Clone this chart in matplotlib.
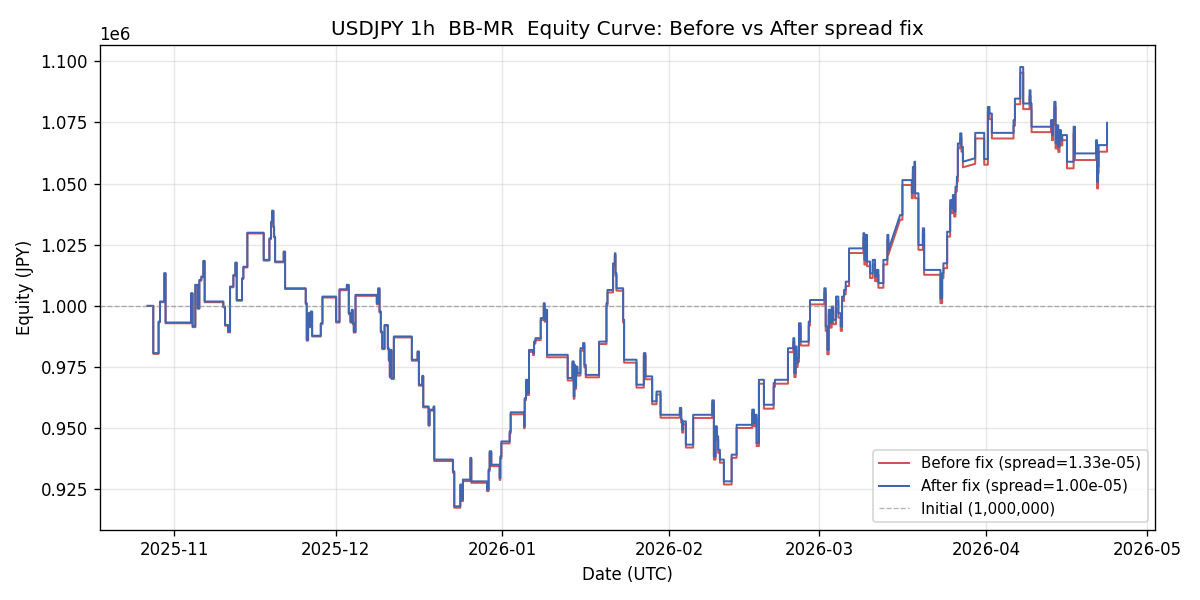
import matplotlib
matplotlib.use("Agg")
import matplotlib.pyplot as plt
import pandas as pd
import numpy as np

# ---- data ----
start_date = "2025-11-01"
# breakpoints: days since start_date at which equity jumps to a new level
days = [-4.97, -3.91, -2.92, -2.66, -1.86, -1.62, 3.11, 3.41, 3.91, 4.34,
        4.66, 5.03, 5.40, 5.65, 9.12, 9.44, 10.0, 10.37, 10.99, 11.36,
        11.61, 12.60, 12.85, 13.59, 16.63, 17.69, 18.0, 18.19, 18.44, 18.56,
        18.75, 20.35, 20.61, 24.45, 24.64, 24.89, 25.14, 25.38, 25.64, 27.25,
        27.56, 30.11, 30.73, 32.09, 32.46, 32.77, 33.02, 33.21, 33.39, 33.71,
        37.67, 37.93, 38.18, 38.42, 38.68, 39.11, 39.72, 39.91, 40.09, 40.22,
        40.41, 40.84, 44.19, 45.25, 45.50, 46.13, 46.31, 47.30, 47.49, 48.23,
        48.36, 51.83, 52.08, 53.20, 53.39, 53.69, 55.07, 55.25, 58.17, 58.47,
        58.66, 58.97, 60.52, 60.65, 60.84, 62.38, 62.57, 65.05, 65.18, 65.43,
        65.68, 65.98, 66.73, 66.92, 67.17, 68.16, 68.72, 68.90, 69.09, 69.34,
        73.18, 74.06, 74.30, 74.43, 74.55, 74.74, 74.99, 75.55, 76.04, 76.29,
        76.54, 79.01, 80.39, 80.58, 81.62, 81.94, 82.07, 82.25, 83.49, 83.67,
        85.98, 87.34, 87.65, 88.89, 89.70, 90.45, 94.04, 94.29, 94.47, 94.66,
        95.16, 96.52, 100.06, 100.37, 100.69, 100.93, 101.17, 101.49, 102.23, 103.67,
        104.60, 107.50, 107.82, 108.06, 108.32, 108.75, 109.68, 111.49, 111.73, 114.15,
        115.14, 115.33, 115.59, 115.77, 115.96, 116.20, 116.52, 118.01, 118.25, 120.91,
        121.17, 121.47, 121.73, 121.97, 122.29, 122.59, 123.09, 123.52, 123.96, 124.21,
        124.58, 124.90, 125.51, 128.18, 128.36, 128.62, 128.86, 129.42, 129.92, 130.35,
        130.67, 130.97, 131.90, 132.64, 132.83, 135.01, 135.44, 137.19, 137.38, 137.67,
        137.80, 138.42, 139.24, 139.48, 142.51, 142.83, 143.07, 143.76, 144.32, 144.64,
        144.82, 145.07, 145.31, 145.57, 145.75, 146.18, 146.42, 146.69, 148.90, 148.98,
        150.65, 151.34, 151.64, 152.08, 156.11, 156.37, 157.36, 157.91, 159.09, 159.27,
        159.46, 163.07, 163.26, 163.45, 163.69, 163.93, 164.19, 164.43, 164.67, 164.94,
        165.18, 166.05, 167.28, 167.54, 171.45, 171.64, 171.83, 171.94, 173.50]

# equity after spread fix (thousand JPY)
after_k = [1000.0, 980.7, 993.6, 1001.8, 1013.4, 993.2, 1005.2, 991.6, 1008.6, 999.1,
           1010.6, 1012.0, 1018.4, 1001.8, 999.7, 992.2, 989.5, 1007.9, 1012.6, 1017.7,
           1002.4, 1011.3, 1016.0, 1029.9, 1018.8, 1027.6, 1034.4, 1038.9, 1032.4, 1028.3,
           1018.1, 1022.2, 1007.2, 1001.1, 986.1, 997.0, 991.6, 997.7, 987.8, 992.9,
           1003.8, 993.6, 1006.8, 1008.6, 997.0, 993.6, 998.4, 992.9, 989.5, 1004.5,
           1001.1, 1007.2, 997.7, 989.5, 982.7, 992.2, 982.7, 978.0, 971.2, 982.0,
           970.5, 987.5, 978.0, 981.4, 967.8, 971.4, 958.9, 951.4, 957.6, 958.9,
           937.2, 932.4, 918.1, 927.0, 920.8, 929.0, 937.9, 928.3, 924.9, 933.1,
           940.6, 935.1, 929.7, 938.5, 944.6, 948.7, 956.5, 950.8, 962.3, 969.8,
           964.4, 982.0, 980.7, 985.4, 986.8, 995.0, 1001.1, 994.3, 998.4, 980.0,
           970.5, 977.3, 963.0, 975.9, 967.1, 975.2, 972.5, 982.7, 984.8, 975.9,
           971.8, 985.4, 1001.1, 1006.5, 1017.4, 1021.5, 1013.3, 1007.2, 994.3, 978.0,
           967.8, 980.7, 971.2, 961.0, 965.0, 955.5, 958.3, 953.5, 949.4, 952.8,
           943.3, 955.5, 961.4, 938.5, 950.8, 946.7, 941.2, 937.2, 928.3, 939.2,
           951.4, 957.6, 952.1, 955.5, 944.0, 969.8, 959.6, 968.5, 969.8, 982.7,
           986.8, 972.5, 983.4, 976.6, 978.7, 992.9, 985.4, 993.6, 1002.4, 1007.2,
           991.6, 982.0, 998.4, 992.9, 999.7, 994.3, 1003.8, 997.0, 991.6, 1003.8,
           1006.5, 1009.9, 1023.5, 1029.7, 1018.8, 1029.0, 1018.1, 1013.3, 1018.8, 1012.0,
           1014.7, 1009.3, 1018.8, 1029.0, 1022.8, 1037.1, 1051.4, 1046.0, 1056.8, 1058.9,
           1046.0, 1024.9, 1031.7, 1014.7, 1003.1, 1013.3, 1017.4, 1030.3, 1043.2, 1039.9,
           1045.3, 1038.5, 1048.7, 1052.8, 1066.4, 1070.5, 1065.0, 1058.9, 1060.3, 1070.7,
           1060.0, 1081.3, 1078.6, 1070.7, 1075.9, 1084.7, 1097.6, 1082.7, 1088.1, 1082.7,
           1073.2, 1075.9, 1069.8, 1075.9, 1083.4, 1066.4, 1073.8, 1065.0, 1071.8, 1067.7,
           1069.8, 1058.9, 1073.2, 1062.3, 1067.7, 1050.7, 1057.0, 1065.7, 1074.8]

# equity before spread fix (thousand JPY)
before_k = [1000.0, 980.4, 993.3, 1001.5, 1013.1, 992.9, 1004.9, 991.3, 1008.3, 998.8,
            1010.3, 1011.7, 1018.1, 1001.5, 999.4, 991.9, 989.2, 1007.6, 1012.3, 1017.4,
            1002.1, 1011.0, 1015.7, 1029.6, 1018.5, 1027.3, 1034.1, 1038.6, 1032.1, 1028.0,
            1017.8, 1021.9, 1006.9, 1000.8, 985.8, 996.7, 991.3, 997.4, 987.5, 992.5,
            1003.4, 993.2, 1006.4, 1008.2, 996.6, 993.2, 998.0, 992.5, 989.1, 1004.1,
            1000.7, 1006.8, 997.3, 989.1, 982.3, 991.8, 982.3, 977.6, 970.8, 981.6,
            970.1, 987.1, 977.6, 981.0, 967.4, 971.0, 958.5, 951.0, 957.2, 958.5,
            936.6, 931.8, 917.5, 926.4, 920.2, 928.4, 937.3, 927.7, 924.3, 932.5,
            940.0, 934.5, 928.9, 937.7, 943.8, 947.9, 955.7, 950.0, 961.5, 969.0,
            963.6, 981.2, 979.9, 984.6, 986.0, 994.2, 1000.3, 993.5, 997.6, 979.0,
            969.5, 976.3, 962.0, 974.9, 966.1, 974.2, 971.5, 981.7, 983.8, 974.9,
            970.8, 984.4, 1000.1, 1005.5, 1016.4, 1020.5, 1012.3, 1006.2, 993.1, 976.8,
            966.6, 979.5, 970.0, 959.8, 963.8, 954.3, 957.1, 952.3, 948.2, 951.6,
            942.1, 954.2, 960.1, 937.2, 949.5, 945.4, 939.9, 935.9, 927.0, 937.9,
            950.1, 956.3, 950.8, 954.2, 942.7, 968.2, 958.0, 966.9, 968.2, 981.1,
            985.2, 970.9, 981.8, 975.0, 977.1, 991.3, 983.8, 992.0, 1000.6, 1005.4,
            989.8, 980.2, 996.6, 991.1, 997.9, 992.5, 1002.0, 995.2, 989.8, 1002.0,
            1004.7, 1008.1, 1021.6, 1027.8, 1016.9, 1027.1, 1016.2, 1011.4, 1016.9, 1010.1,
            1012.8, 1007.4, 1016.9, 1027.1, 1020.9, 1035.2, 1049.4, 1044.0, 1054.8, 1056.9,
            1044.0, 1022.9, 1029.7, 1012.7, 1001.1, 1011.3, 1015.4, 1028.3, 1041.2, 1037.9,
            1043.3, 1036.5, 1046.7, 1050.8, 1064.4, 1068.5, 1063.0, 1056.6, 1058.0, 1068.4,
            1057.7, 1079.0, 1076.3, 1068.4, 1073.6, 1082.4, 1095.3, 1080.4, 1085.8, 1080.4,
            1071.0, 1073.8, 1067.7, 1073.8, 1081.3, 1064.3, 1071.7, 1062.9, 1069.7, 1065.6,
            1067.7, 1056.2, 1070.5, 1059.6, 1065.0, 1048.0, 1054.3, 1063.0, 1071.8]

# breakpoints after which the line runs straight (data gap) instead of stepping
ramp_days = [132.83, 146.69]

initial_equity = 1_000_000
spread_before = 1.33e-05
spread_after = 1.00e-05


def step_path(d, v):
    xs, ys = [], []
    for i in range(len(d)):
        xs.append(d[i]); ys.append(v[i])
        if i < len(d) - 1 and d[i] not in ramp_days:
            xs.append(d[i + 1]); ys.append(v[i])
    t = pd.Timestamp(start_date) + pd.to_timedelta(np.array(xs), unit="D")
    return t, np.array(ys) * 1000.0


fig, ax = plt.subplots(figsize=(10, 5), dpi=120)
fig.subplots_adjust(left=0.083, right=0.9625, top=0.925, bottom=0.117)

tb, yb = step_path(days, before_k)
ta, ya = step_path(days, after_k)
ax.plot(tb, yb, color="#d05452", lw=1.2, label=f"Before fix (spread={spread_before:.2e})")
ax.plot(ta, ya, color="#3d65b1", lw=1.2, label=f"After fix (spread={spread_after:.2e})")
ax.axhline(initial_equity, color="gray", ls="--", lw=0.8, alpha=0.6,
           label=f"Initial ({initial_equity:,})")

ax.grid(True, alpha=0.3)
ax.set_title("USDJPY 1h  BB-MR  Equity Curve: Before vs After spread fix", fontsize=12)
ax.set_xlabel("Date (UTC)")
ax.set_ylabel("Equity (JPY)")
ax.legend(loc="lower right", fontsize=9)

fig.savefig("out.png", dpi=120)
